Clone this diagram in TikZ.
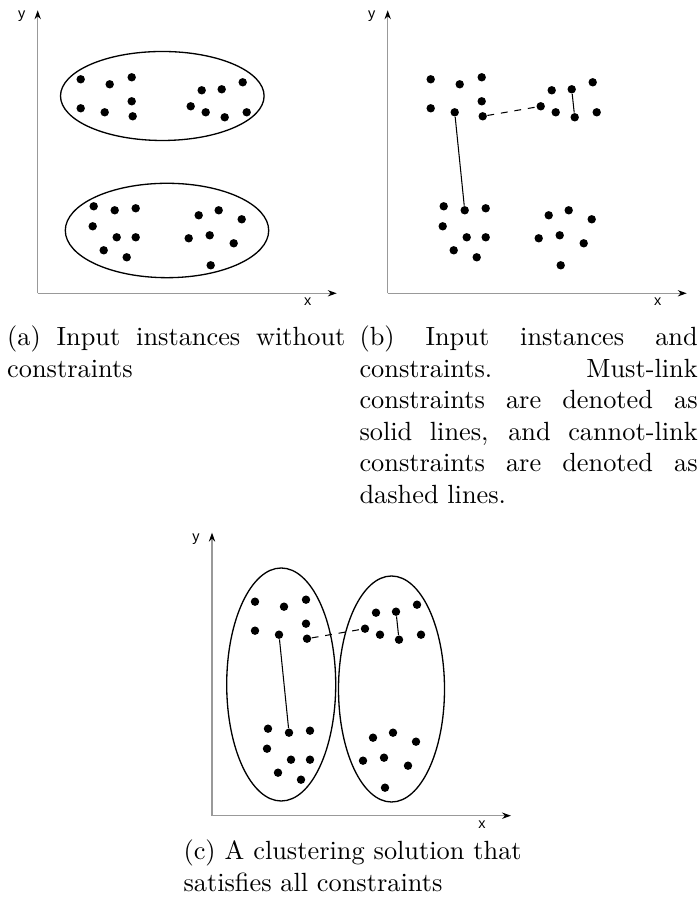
\documentclass[tikz,border=0pt]{standalone}
\usepackage{fontspec}
\newfontfamily\axisfont{Liberation Sans}
\usetikzlibrary{arrows.meta}

\tikzset{
    dot/.style={circle, fill=black, inner sep=0pt, minimum size=3.2pt},
    axis/.style={draw=gray!80, line width=0.4pt, -{Stealth[black, length=3.4pt, width=2.4pt]}},
    axislabel/.style={inner sep=0pt, font=\axisfont\fontsize{5.5}{6}\selectfont},
    cluster/.style={line width=0.5pt},
    mustlink/.style={line width=0.4pt},
    cannotlink/.style={line width=0.4pt, dash pattern=on 2.6pt off 2.6pt},
    caption/.style={inner sep=0pt, anchor=north west, text width=128.5pt,
        align=justify, font=\fontsize{10}{12}\selectfont},
}

% axes of one panel, #1 prefixes the label names
\newcommand\panelaxes[1]{%
    \draw[axis] (0,0) -- (0,283);
    \draw[axis] (0,0) -- (299,0);
    \node[axislabel] (#1y) at (-16,277) {y};
    \node[axislabel] (#1x) at (270,-8.5) {x};
}

% the 29 instances: 1-7 upper left, 8-14 upper right, 15-22 lower left, 23-29 lower right
\newcommand\instances[1]{%
    \foreach \px/\py [count=\i] in {43/214, 72/209, 94/216, 43/185, 67/181, 94/192, 95/177,
        164/203, 184/204, 205/211, 153/187, 168/181, 187/176, 209/181,
        56/87, 77/83, 98/85, 55/67, 79/56, 98/56, 66/43, 89/36,
        161/78, 181/83, 204/74, 151/55, 172/58, 196/50, 173/28}
        \node[dot] (#1\i) at (\px,\py) {};
}

\begin{document}
\begin{tikzpicture}[x=0.38pt, y=0.38pt]
    \useasboundingbox (0,0) rectangle (699,902);

    % (a) instances only
    \begin{scope}[shift={(37.7,608.7)}]
        \panelaxes{a}
        \instances{a}
        \draw[cluster] (124.6,197.3) ellipse [x radius=101.8, y radius=44.5];
        \draw[cluster] (129.3,62.8) ellipse [x radius=101.7, y radius=47.2];
    \end{scope}

    % (b) instances and constraints
    \begin{scope}[shift={(387.7,608.7)}]
        \panelaxes{b}
        \instances{b}
        \draw[mustlink] (b5) -- (b16);
        \draw[mustlink] (b9) -- (b13);
        \draw[cannotlink] (b7) -- (b11);
    \end{scope}

    % (c) clustering
    \begin{scope}[shift={(212,86.3)}]
        \panelaxes{c}
        \instances{c}
        \draw[mustlink] (c5) -- (c16);
        \draw[mustlink] (c9) -- (c13);
        \draw[cannotlink] (c7) -- (c11);
        \draw[cluster] (69.2,131.2) ellipse [x radius=54.5, y radius=116.5];
        \draw[cluster] (179.5,126.7) ellipse [x radius=53, y radius=113];
    \end{scope}

    \node[caption] (capa) at (6.7,576.7) {(a) Input instances without\linebreak constraints};
    \node[caption] (capb) at (359,576.7) {(b) Input instances and\linebreak
        constraints. Must-link\linebreak constraints are denoted as\linebreak
        solid lines, and cannot-link\linebreak constraints are denoted as\linebreak
        dashed lines.};
    \node[caption] (capc) at (183,62.7) {(c) A clustering solution that\linebreak
        satisfies all constraints};
\end{tikzpicture}
\end{document}
